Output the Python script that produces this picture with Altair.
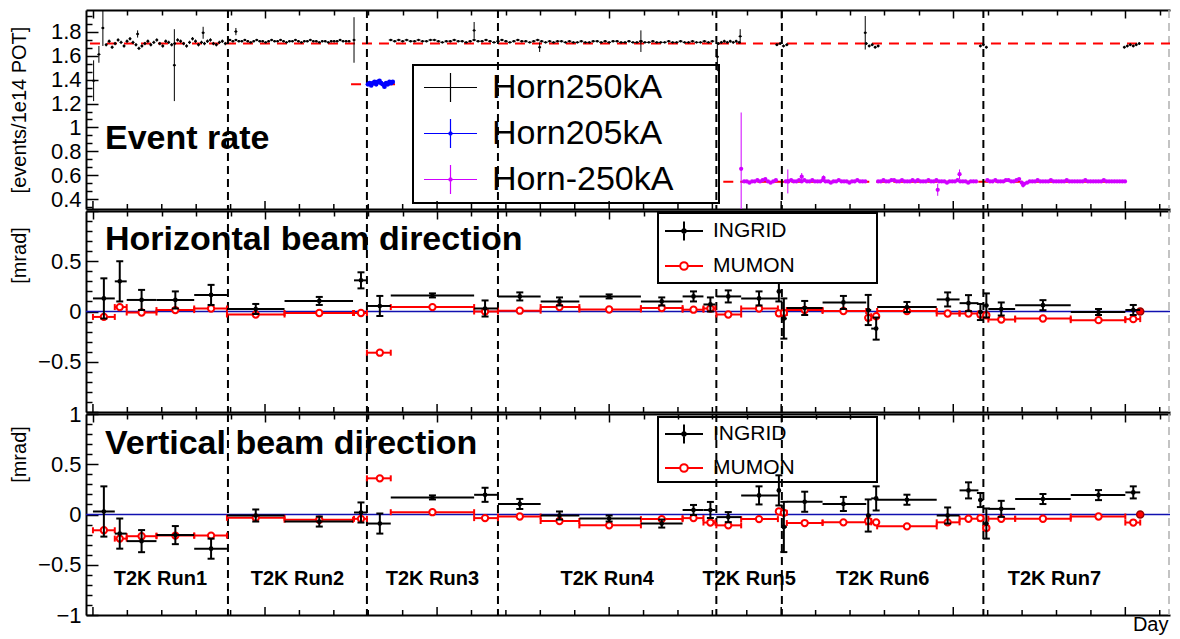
import altair as alt
import pandas as pd

FONT = "Liberation Sans"
W = 1084
H_TOP, H_MID, H_BOT = 199, 201, 201
X_DOMAIN = [-21, 3255]
Y_TOP = [0.32, 1.98]
Y_DIR = [-1.0, 1.0]

# ---------------- runs ----------------
run_names = ["T2K Run1", "T2K Run2", "T2K Run3", "T2K Run4", "T2K Run5", "T2K Run6", "T2K Run7"]
run_start = [0, 408, 828, 1224, 1884, 2082, 2691]
run_end = [408, 828, 1224, 1884, 2082, 2691, 3120]
run_boundaries = [408, 828, 1224, 1884, 2082, 2691]

# ---------------- event rate (events / 1e14 POT) ----------------
h250_run1_start, h250_run1_step, h250_run1_err = 40, 9, 0.014
h250_run1 = [1.69, 1.72, 1.67, 1.70, 1.73, 1.71, 1.68, 1.72, 1.74, 1.71,
             1.69, 1.66, 1.68, 1.70, 1.72, 1.69, 1.71, 1.73, 1.70, 1.68,
             1.72, 1.71, 1.69, 1.70, 1.73, 1.72, 1.70, 1.68, 1.71, 1.74,
             1.72, 1.69, 1.71, 1.70, 1.72, 1.73, 1.70, 1.69, 1.71, 1.72, 1.70]
h250_run2_start, h250_run2_step, h250_run2_err = 414, 9, 0.008
h250_run2 = [1.73, 1.72, 1.73, 1.72, 1.72, 1.73, 1.72, 1.71, 1.72, 1.73,
             1.72, 1.72, 1.71, 1.72, 1.73, 1.72, 1.72, 1.73, 1.72, 1.71,
             1.72, 1.72, 1.73, 1.72, 1.71, 1.72, 1.72, 1.73, 1.72, 1.72,
             1.71, 1.72, 1.72, 1.71, 1.72, 1.72, 1.72, 1.73, 1.72, 1.72, 1.72]
h250_run34_start, h250_run34_step, h250_run34_err = 900, 12, 0.008
h250_run34 = [1.73, 1.72, 1.73, 1.72, 1.73, 1.72, 1.72, 1.73, 1.72, 1.72,
              1.73, 1.73, 1.72, 1.71, 1.72, 1.72, 1.73, 1.72, 1.72, 1.71,
              1.72, 1.73, 1.72, 1.72, 1.73, 1.72, 1.71,
              1.72, 1.73, 1.72, 1.71, 1.72, 1.73, 1.72, 1.72, 1.71, 1.72,
              1.73, 1.72, 1.71, 1.72, 1.71, 1.72, 1.72, 1.71, 1.72, 1.71,
              1.71, 1.72, 1.71, 1.71, 1.72, 1.72, 1.71, 1.72, 1.71, 1.72,
              1.72, 1.71, 1.71, 1.72, 1.71, 1.71, 1.72, 1.71, 1.71, 1.72,
              1.71, 1.71, 1.71, 1.72, 1.71, 1.71, 1.72, 1.71, 1.71, 1.72,
              1.71, 1.71, 1.72, 1.71, 1.72]
h250_run5a_start, h250_run5a_step = 1890, 9
h250_run5a = [1.70, 1.71, 1.72, 1.71, 1.72, 1.71, 1.72, 1.71]
h250_run6a_start, h250_run6a_step = 2067, 10
h250_run6a = [1.69, 1.70, 1.68, 1.69]
h250_run6b_start, h250_run6b_step = 2337, 9
h250_run6b = [1.70, 1.68, 1.69, 1.67, 1.68]
h250_run7a_start, h250_run7a_step = 2682, 9
h250_run7a = [1.68, 1.69, 1.67]
h250_run7b_start, h250_run7b_step = 3117, 9
h250_run7b = [1.67, 1.68, 1.69, 1.68, 1.69, 1.70]
h250_small_err = 0.012

h250_out_day = [2, 18, 30, 135, 246, 333, 432, 789, 1152, 1350, 1656, 1887, 1956, 2334]
h250_out_rate = [1.39, 1.61, 1.83, 1.78, 1.52, 1.79, 1.80, 1.73, 1.81, 1.67, 1.72, 1.59, 1.76, 1.79]
h250_out_err = [0.17, 0.07, 0.15, 0.03, 0.30, 0.05, 0.03, 0.19, 0.07, 0.04, 0.09, 0.12, 0.06, 0.14]

h205_start, h205_step, h205_err = 831, 5, 0.012
h205 = [1.36, 1.37, 1.35, 1.37, 1.38, 1.36, 1.38, 1.39, 1.37, 1.36,
        1.34, 1.37, 1.36, 1.38, 1.37, 1.38]

hm_err = 0.008
hm_seg1_start, hm_seg1_step = 1968, 8
hm_seg1 = [0.55, 0.55, 0.54, 0.55, 0.55, 0.56, 0.55, 0.56, 0.57, 0.55, 0.54, 0.55, 0.56]
hm_seg2_start, hm_seg2_step = 2094, 8
hm_seg2 = [0.55, 0.55, 0.56, 0.55, 0.55, 0.56, 0.55, 0.56, 0.55, 0.55,
           0.56, 0.55, 0.55, 0.55, 0.56, 0.55, 0.55, 0.54, 0.55, 0.55,
           0.56, 0.55, 0.55, 0.55, 0.54, 0.55, 0.55, 0.56, 0.55, 0.55, 0.55]
hm_seg3_start, hm_seg3_step = 2373, 8
hm_seg3 = [0.55, 0.55, 0.56, 0.55, 0.55, 0.56, 0.56, 0.55, 0.55, 0.56,
           0.55, 0.55, 0.55, 0.56, 0.55, 0.56, 0.55, 0.55, 0.55, 0.56,
           0.55, 0.55, 0.56, 0.55, 0.55, 0.55, 0.54, 0.55, 0.55, 0.55,
           0.56, 0.55, 0.55, 0.55, 0.54, 0.55, 0.55, 0.55]
hm_seg4_start, hm_seg4_step = 2703, 8
hm_seg4 = [0.56, 0.55, 0.55, 0.56, 0.55, 0.55, 0.55, 0.56, 0.56, 0.55,
           0.55, 0.56, 0.57, 0.54, 0.53, 0.54, 0.55, 0.55, 0.55, 0.56,
           0.55, 0.55, 0.55, 0.55, 0.56, 0.55, 0.55, 0.55, 0.55, 0.55,
           0.56, 0.55, 0.55, 0.55, 0.55, 0.55, 0.55, 0.56, 0.55, 0.55,
           0.55, 0.55, 0.55, 0.55, 0.56, 0.55, 0.55, 0.55, 0.55, 0.55,
           0.55, 0.55, 0.55]
hm_out_day = [1959, 2100, 2142, 2208, 2553, 2619, 2811]
hm_out_rate = [0.655, 0.55, 0.59, 0.58, 0.48, 0.61, 0.52]
hm_out_err = [0.47, 0.10, 0.03, 0.02, 0.05, 0.04, 0.02]

ref_level = [1.70, 1.36, 0.548]
ref_from = [-9, 780, 1905]
ref_to = [3255, 924, 3111]

top_series = ["Horn250kA", "Horn205kA", "Horn-250kA"]
top_colors = ["black", "#0000ff", "#d000ff"]

# ---------------- beam direction (mrad) ----------------
bin_lo = [0, 66, 102, 192, 306, 405, 579, 789, 828, 900, 1152, 1224, 1353, 1470, 1656, 1782, 1845,
          1884, 1959, 2067, 2079, 2097, 2205, 2337, 2352, 2370, 2550, 2619, 2676, 2691, 2706, 2787, 2955, 3120]
bin_hi = [66, 102, 192, 306, 405, 579, 786, 828, 900, 1152, 1224, 1353, 1470, 1656, 1782, 1845, 1881,
          1959, 2070, 2079, 2097, 2205, 2337, 2352, 2370, 2550, 2619, 2676, 2691, 2706, 2787, 2955, 3120, 3165]
bin_mid = [33, 81, 147, 249, 357, 492, 684, 810, 867, 1026, 1185, 1290, 1410, 1560, 1719, 1815, 1866,
           1920, 2013, 2073, 2088, 2151, 2268, 2343, 2367, 2460, 2583, 2646, 2682, 2700, 2745, 2871, 3039, 3144]

ingrid_h = [0.13, 0.30, 0.115, 0.115, 0.165, 0.025, 0.105, 0.31, 0.055, 0.16, 0.03, 0.15, 0.10, 0.15, 0.10, 0.15, 0.07,
            0.15, 0.13, 0.20, -0.07, 0.035, 0.09, 0.015, -0.17, 0.045, 0.12, 0.083, -0.005, 0.06, 0.025, 0.063, -0.005, 0.015]
ingrid_h_err = [0.20, 0.20, 0.10, 0.085, 0.10, 0.05, 0.04, 0.08, 0.10, 0.02, 0.08, 0.04, 0.04, 0.02, 0.04, 0.05, 0.07,
                0.06, 0.07, 0.10, 0.20, 0.07, 0.065, 0.15, 0.11, 0.05, 0.07, 0.08, 0.08, 0.12, 0.065, 0.05, 0.03, 0.05]
mumon_h = [-0.054, 0.044, -0.01, 0.014, 0.03, -0.03, -0.015, -0.015, -0.41, 0.044, 0.0, 0.008, 0.044, 0.02, 0.034, 0.018, 0.03,
           -0.03, 0.03, -0.018, -0.015, 0.015, 0.005, -0.063, -0.047, 0.005, -0.02, -0.02, -0.03, -0.037, -0.08, -0.07, -0.086, -0.076]

ingrid_v = [0.03, -0.19, -0.265, -0.205, -0.34, -0.01, -0.07, 0.02, -0.09, 0.17, 0.196, 0.105, -0.01, -0.04, -0.09, 0.045, 0.045,
            -0.026, 0.19, 0.24, -0.124, 0.127, 0.105, -0.01, 0.16, 0.147, -0.01, 0.24, 0.144, -0.09, 0.056, 0.154, 0.193, 0.22]
ingrid_v_err = [0.25, 0.15, 0.11, 0.09, 0.10, 0.06, 0.05, 0.10, 0.10, 0.02, 0.07, 0.05, 0.04, 0.03, 0.04, 0.05, 0.08,
                0.05, 0.09, 0.15, 0.25, 0.10, 0.07, 0.16, 0.12, 0.05, 0.08, 0.08, 0.07, 0.15, 0.08, 0.05, 0.05, 0.06]
mumon_v = [-0.157, -0.24, -0.216, -0.21, -0.21, -0.033, -0.052, -0.043, 0.36, 0.023, -0.036, -0.02, -0.065, -0.108, -0.046, -0.036, -0.08,
           -0.108, -0.046, 0.03, 0.017, -0.085, -0.078, -0.065, -0.078, -0.118, -0.078, -0.042, -0.036, -0.134, -0.042, -0.042, -0.02, -0.08]

mumon_last_day = [3165]
mumon_last_h = [0.0]
mumon_last_v = [0.0]

dir_series = ["INGRID", "MUMON"]
dir_colors = ["black", "#ff0000"]

# tick positions
x_major = [0, 520, 1040, 1560, 2080, 2600, 3120]
x_minor = [d for d in range(104, 3255, 104) if d % 520 != 0]
top_labels = [0.4, 0.6, 0.8, 1.0, 1.2, 1.4, 1.6, 1.8]
top_minor = [round(0.4 + k * 0.2 / 3, 4) for k in range(-1, 24) if k % 3 != 0]
dir_labels_mid = [-0.5, 0.0, 0.5]
dir_labels_bot = [-1.0, -0.5, 0.0, 0.5, 1.0]
dir_major = [-1.0, -0.5, 0.0, 0.5, 1.0]
dir_minor = [round(-0.9 + 0.1 * k, 2) for k in range(19) if k % 5 != 4]

P_CROSS = "M-1,0H1M0,-0.55V0.55"
P_CROSS_DOT = "M-1,0H1M0,-0.55V0.55M0.06,0A0.06,0.06 0 1,1 -0.06,0A0.06,0.06 0 1,1 0.06,0"
P_INGRID = "M-1,0H1M0,-0.5V0.5M0.09,0A0.09,0.09 0 1,1 -0.09,0A0.09,0.09 0 1,1 0.09,0"
P_MUMON = "M-1,0H-0.2M0.2,0H1M0.2,0A0.2,0.2 0 1,1 -0.2,0A0.2,0.2 0 1,1 0.2,0"


# ---------------- helpers ----------------
def xs():
    return alt.Scale(domain=X_DOMAIN, nice=False, zero=False)


def ys(dom):
    return alt.Scale(domain=dom, nice=False, zero=False)


def X(f):
    return alt.X(f, type="quantitative", scale=xs(), axis=None)


def Y(f, dom):
    return alt.Y(f, type="quantitative", scale=ys(dom), axis=None)


def frame_layers(ydom, ylabels, ymajor, yminor, ytitle, ytitle_y, H, day_title):
    base = alt.Chart(pd.DataFrame({"gx": [None], "gy": [None]}))
    main_y = dict(orient="left", values=ylabels, format="~g", labelFontSize=22, labelColor="black",
                  labelPadding=5, ticks=False, tickSize=0, domain=True, domainColor="black",
                  domainWidth=2, grid=False, title=ytitle, titleFontSize=20, titleFontWeight="normal",
                  titleColor="black", titleX=-57)
    if ytitle_y is not None:
        main_y["titleY"] = ytitle_y
    main_x = dict(orient="bottom", labels=False, ticks=False, domain=True, domainColor="black",
                  domainWidth=2, grid=False)
    if day_title:
        main_x.update(title=day_title, titleFontSize=20, titleFontWeight="normal", titleColor="black",
                      titleAlign="right", titleX=W - 2, titleY=-1, titleBaseline="top")
    else:
        main_x["title"] = None
    L0 = base.mark_point(opacity=0).encode(
        x=alt.X("gx:Q", scale=xs(), axis=alt.Axis(**main_x)),
        y=alt.Y("gy:Q", scale=ys(ydom), axis=alt.Axis(**main_y)))

    def tick_axis(orient, offset, values, size, domain=False):
        return alt.Axis(orient=orient, offset=offset, values=values, tickSize=size, tickColor="black",
                        tickWidth=1.5, labels=False, domain=domain, domainColor="black", domainWidth=2,
                        grid=False, title=None)

    L1 = base.mark_point(opacity=0).encode(
        x=X("gx:Q"), y=alt.Y("gy:Q", scale=ys(ydom), axis=tick_axis("right", -W, ymajor, 12)))
    L2 = base.mark_point(opacity=0).encode(
        x=X("gx:Q"), y=alt.Y("gy:Q", scale=ys(ydom), axis=tick_axis("right", -W, yminor, 6)))
    L3 = base.mark_point(opacity=0).encode(
        x=alt.X("gx:Q", scale=xs(), axis=tick_axis("bottom", -H, x_major, 8, True)), y=Y("gy:Q", ydom))
    L4 = base.mark_point(opacity=0).encode(
        x=alt.X("gx:Q", scale=xs(), axis=tick_axis("bottom", -H, x_minor, 5)), y=Y("gy:Q", ydom))
    bt_major = alt.Chart(pd.DataFrame({"t": x_major})).mark_rule(color="black", strokeWidth=1.5).encode(
        x=X("t:Q"), y=alt.value(H), y2=alt.value(H - 8))
    bt_minor = alt.Chart(pd.DataFrame({"t": x_minor})).mark_rule(color="black", strokeWidth=1.5).encode(
        x=X("t:Q"), y=alt.value(H), y2=alt.value(H - 5))
    edge = base.mark_rule(color="#b0b0b0", strokeDash=[8, 5], strokeWidth=1.5).encode(
        x=alt.value(W - 1), y=alt.value(0), y2=alt.value(H))
    return [L0, L1, L2, L3, L4, bt_major, bt_minor, edge]


def run_lines():
    df = pd.DataFrame({"day": run_boundaries})
    return alt.Chart(df).mark_rule(color="black", strokeDash=[8, 5], strokeWidth=2).encode(x=X("day:Q"))


def seg_frame(start, step, values, err):
    n = len(values)
    return pd.DataFrame({"day": [start + i * step for i in range(n)], "rate": values,
                         "err": [err] * n, "half": [step / 2] * n})


def point_frame(days, values, errs, half):
    return pd.DataFrame({"day": days, "rate": values, "err": errs, "half": [half] * len(days)})


def rate_layers(df, color, dot_size, lw):
    base = alt.Chart(df)
    vbar = base.transform_calculate(lo="datum.rate - datum.err", hi="datum.rate + datum.err").mark_rule(
        color=color, strokeWidth=lw, clip=True).encode(x=X("day:Q"), y=Y("lo:Q", Y_TOP), y2=alt.Y2("hi:Q"))
    hbar = base.transform_calculate(a="datum.day - datum.half", b="datum.day + datum.half").mark_rule(
        color=color, strokeWidth=lw, clip=True).encode(x=X("a:Q"), x2=alt.X2("b:Q"), y=Y("rate:Q", Y_TOP))
    dots = base.mark_circle(color=color, size=dot_size, opacity=1, clip=True).encode(
        x=X("day:Q"), y=Y("rate:Q", Y_TOP))
    return [vbar, hbar, dots]


def legend_layer(names, colors, paths, ydom, **lg):
    df = pd.DataFrame({"series": names, "lx": [None] * len(names), "ly": [None] * len(names)})
    legend = alt.Legend(orient="none", title=None, labelFont=FONT, labelColor="black", labelLimit=600,
                        symbolOpacity=1, padding=0, **lg)
    return alt.Chart(df).mark_point(filled=False, opacity=1).encode(
        x=X("lx:Q"), y=Y("ly:Q", ydom),
        color=alt.Color("series:N", scale=alt.Scale(domain=names, range=colors), legend=legend),
        shape=alt.Shape("series:N", scale=alt.Scale(domain=names, range=paths), legend=legend))


def legend_box(x0, x1, y0, y1, fill):
    return alt.Chart(pd.DataFrame({"b": [0]})).mark_rect(
        stroke="black", strokeWidth=2, fill=fill if fill else "transparent").encode(
        x=alt.value(x0), x2=alt.value(x1), y=alt.value(y0), y2=alt.value(y1))


def title_text(text, x, y):
    return alt.Chart(pd.DataFrame({"t": [text]})).mark_text(
        align="left", baseline="middle", fontSize=34, fontWeight="bold", font=FONT, color="black"
    ).encode(x=alt.value(x), y=alt.value(y), text="t:N")


# ---------------- top panel: event rate ----------------
black_segments = pd.concat([
    seg_frame(h250_run1_start, h250_run1_step, h250_run1, h250_run1_err),
    seg_frame(h250_run2_start, h250_run2_step, h250_run2, h250_run2_err),
    seg_frame(h250_run34_start, h250_run34_step, h250_run34, h250_run34_err),
    seg_frame(h250_run5a_start, h250_run5a_step, h250_run5a, h250_small_err),
    seg_frame(h250_run6a_start, h250_run6a_step, h250_run6a, h250_small_err),
    seg_frame(h250_run6b_start, h250_run6b_step, h250_run6b, h250_small_err),
    seg_frame(h250_run7a_start, h250_run7a_step, h250_run7a, h250_small_err),
    seg_frame(h250_run7b_start, h250_run7b_step, h250_run7b, h250_small_err),
], ignore_index=True)
black_out = point_frame(h250_out_day, h250_out_rate, h250_out_err, 4.5)
blue_df = seg_frame(h205_start, h205_step, h205, h205_err)
mag_df = pd.concat([
    seg_frame(hm_seg1_start, hm_seg1_step, hm_seg1, hm_err),
    seg_frame(hm_seg2_start, hm_seg2_step, hm_seg2, hm_err),
    seg_frame(hm_seg3_start, hm_seg3_step, hm_seg3, hm_err),
    seg_frame(hm_seg4_start, hm_seg4_step, hm_seg4, hm_err),
], ignore_index=True)
mag_out = point_frame(hm_out_day, hm_out_rate, hm_out_err, 4)
ref_df = pd.DataFrame({"a": ref_from, "b": ref_to, "level": ref_level})

ref_rules = alt.Chart(ref_df).mark_rule(color="#ff0000", strokeDash=[10, 7], strokeWidth=2).encode(
    x=X("a:Q"), x2=alt.X2("b:Q"), y=Y("level:Q", Y_TOP))

top_layers = frame_layers(Y_TOP, top_labels, top_labels, top_minor, "[events/1e14 POT]", None, H_TOP, None)
top_layers += [ref_rules, run_lines()]
top_layers += rate_layers(black_segments, "black", 6, 1)
top_layers += rate_layers(black_out, "black", 6, 1)
top_layers += rate_layers(blue_df, "#0000ff", 22, 1)
top_layers += rate_layers(mag_df, "#d000ff", 18, 1)
top_layers += rate_layers(mag_out, "#d000ff", 18, 1)
top_layers += [title_text("Event rate", 19, 129),
               legend_box(327, 633, 55, 193, None),
               legend_layer(top_series, top_colors, [P_CROSS, P_CROSS_DOT, P_CROSS_DOT], Y_TOP,
                            legendX=337, legendY=50, labelFontSize=34, labelOffset=14,
                            symbolSize=2809, symbolStrokeWidth=1.2, rowPadding=1)]
top = alt.layer(*top_layers).resolve_axis(x="independent", y="independent").properties(width=W, height=H_TOP)


# ---------------- direction panels ----------------
def direction_panel(ing, ing_err, mum, mum_last, H, title, title_y, ytitle_y, ylabels, box, legend_y,
                    row_pad, legend_fill, day_title, run_label_y):
    df = pd.DataFrame({"lo": bin_lo, "hi": bin_hi, "mid": bin_mid, "ing": ing, "err": ing_err, "mum": mum})
    base = alt.Chart(df)
    zero = alt.Chart(pd.DataFrame({"level": [0.0]})).mark_rule(color="#1010b0", strokeWidth=1.5).encode(
        y=Y("level:Q", Y_DIR))
    m_h = base.mark_rule(color="#ff0000", strokeWidth=2).encode(x=X("lo:Q"), x2=alt.X2("hi:Q"), y=Y("mum:Q", Y_DIR))
    m_c1 = base.mark_tick(color="#ff0000", orient="vertical", size=6, thickness=2, opacity=1).encode(
        x=X("lo:Q"), y=Y("mum:Q", Y_DIR))
    m_c2 = base.mark_tick(color="#ff0000", orient="vertical", size=6, thickness=2, opacity=1).encode(
        x=X("hi:Q"), y=Y("mum:Q", Y_DIR))
    m_pt = base.mark_circle(fill="white", stroke="#ff0000", strokeWidth=2, size=40, opacity=1).encode(
        x=X("mid:Q"), y=Y("mum:Q", Y_DIR))
    last = alt.Chart(pd.DataFrame({"day": mumon_last_day, "v": mum_last})).mark_circle(
        color="#ff0000", stroke="#990000", strokeWidth=1.5, size=50, opacity=1).encode(
        x=X("day:Q"), y=Y("v:Q", Y_DIR))
    errs = base.transform_calculate(a="datum.ing - datum.err", b="datum.ing + datum.err")
    i_h = base.mark_rule(color="black", strokeWidth=2).encode(x=X("lo:Q"), x2=alt.X2("hi:Q"), y=Y("ing:Q", Y_DIR))
    i_v = errs.mark_rule(color="black", strokeWidth=2).encode(x=X("mid:Q"), y=Y("a:Q", Y_DIR), y2=alt.Y2("b:Q"))
    i_c1 = errs.mark_tick(color="black", orient="horizontal", size=7, thickness=2, opacity=1).encode(
        x=X("mid:Q"), y=Y("a:Q", Y_DIR))
    i_c2 = errs.mark_tick(color="black", orient="horizontal", size=7, thickness=2, opacity=1).encode(
        x=X("mid:Q"), y=Y("b:Q", Y_DIR))
    i_pt = base.mark_circle(color="black", size=22, opacity=1).encode(x=X("mid:Q"), y=Y("ing:Q", Y_DIR))
    runs = alt.Chart(pd.DataFrame({"name": run_names, "s": run_start, "e": run_end})).transform_calculate(
        c="(datum.s + datum.e) / 2")
    layers = frame_layers(Y_DIR, ylabels, dir_major, dir_minor, "[mrad]", ytitle_y, H, day_title)
    layers += [zero, run_lines(), m_h, m_c1, m_c2, m_pt, last, i_h, i_v, i_c1, i_c2, i_pt,
               title_text(title, 19, title_y)]
    if run_label_y is not None:
        layers.append(runs.mark_text(fontSize=20, fontWeight="bold", font=FONT, color="black").encode(
            x=X("c:Q"), y=alt.value(run_label_y), text="name:N"))
    layers.append(legend_box(box[0], box[1], box[2], box[3], legend_fill))
    layers.append(legend_layer(dir_series, dir_colors, [P_INGRID, P_MUMON], Y_DIR,
                               legendX=578, legendY=legend_y, labelFontSize=21, labelOffset=9,
                               symbolSize=1444, symbolStrokeWidth=2, rowPadding=row_pad))
    return alt.layer(*layers).resolve_axis(x="independent", y="independent").properties(width=W, height=H)


mid = direction_panel(ingrid_h, ingrid_h_err, mumon_h, mumon_last_h, H_MID, "Horizontal beam direction", 29, 44,
                      dir_labels_mid, (572, 791, 2, 72), 0, 1, "white", None, None)
bot = direction_panel(ingrid_v, ingrid_v_err, mumon_v, mumon_last_v, H_BOT, "Vertical beam direction", 30, 40,
                      dir_labels_bot, (572, 791, 3, 68), 0, 0, None, "Day", 165)

chart = alt.vconcat(top, mid, bot, spacing=2, bounds="flush").resolve_scale(
    color="independent", shape="independent").resolve_legend(color="independent", shape="independent")
chart = chart.properties(padding=0).configure(font=FONT, background="white").configure_view(stroke="transparent")

chart.save("out.html", embed_options={"renderer": "svg", "actions": False})
